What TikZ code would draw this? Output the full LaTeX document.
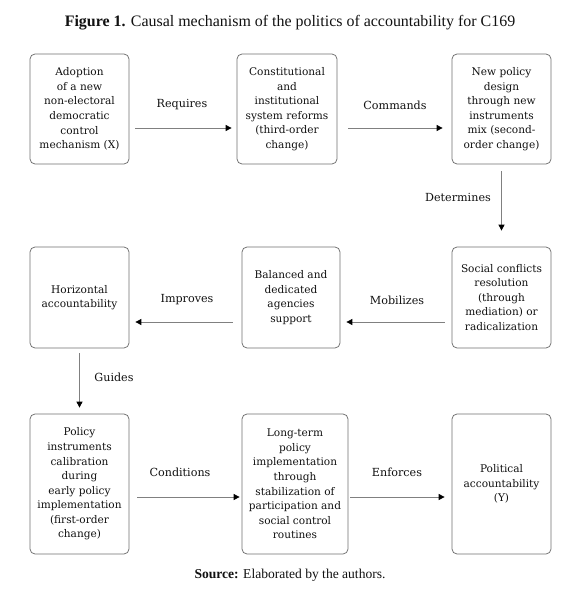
\documentclass[tikz,border=0pt]{standalone}
\usepackage{fontspec}
\setmainfont{Liberation Serif}
\newfontfamily\boxfont{DejaVu Serif}
\usetikzlibrary{arrows.meta}
\definecolor{boxgray}{HTML}{707070}
\definecolor{linegray}{HTML}{808080}
\definecolor{txt}{HTML}{111111}
\begin{document}
\begin{tikzpicture}[x=1bp,y=-1bp,
  box/.style={draw=boxgray, line width=0.75bp, rounded corners=5bp, text=txt,
    font=\boxfont\fontsize{10.6}{14.6}\selectfont, align=center, inner sep=0pt},
  row1/.style={box, minimum width=99bp, minimum height=110bp},
  row2/.style={box, minimum width=99bp, minimum height=101bp},
  row3/.style={box, minimum width=99bp, minimum height=140bp},
  arr/.style={draw=linegray, line width=0.8bp, -{Triangle[length=6bp,width=6bp,color=black]}},
  lbl/.style={text=txt, font=\boxfont\fontsize{11.2}{13}\selectfont, inner sep=0pt}
]
\useasboundingbox (0,0) rectangle (580,595);
\fill[white] (0,0) rectangle (580,595);

\node[font=\fontsize{16}{18}\selectfont, text=txt] (title) at (290,23)
  {\textbf{Figure 1.} Causal mechanism of the politics of accountability for C169};

\node[row1] (A) at (79.5,109) {Adoption\\of a new\\non-electoral\\democratic\\control\\mechanism (X)};
\node[row1, minimum width=100bp] (B) at (287,109) {Constitutional\\and\\institutional\\system reforms\\(third-order\\change)};
\node[row1] (C) at (501.5,109) {New policy\\design\\through new\\instruments\\mix (second-\\order change)};

\node[row2] (D) at (79.5,297.5) {Horizontal\\accountability};
\node[row2, minimum width=98bp] (E) at (291,297.5) {Balanced and\\dedicated\\agencies\\support};
\node[row2] (F) at (501.5,297.5) {Social conflicts\\resolution\\(through\\mediation) or\\radicalization};

\node[row3] (G) at (79.5,484) {Policy\\instruments\\calibration\\during\\early policy\\implementation\\(first-order\\change)};
\node[row3, minimum width=106bp] (H) at (295,484) {Long-term\\policy\\implementation\\through\\stabilization of\\participation and\\social control\\routines};
\node[row3] (I) at (501.5,484) {Political\\accountability\\(Y)};

\draw[arr, shorten <=6bp, shorten >=5bp] ([yshift=-19bp]A.east) -- ([yshift=-19bp]B.west);
\draw[arr, shorten <=11bp, shorten >=9bp] ([yshift=-19bp]B.east) -- ([yshift=-19bp]C.west);
\draw[arr, shorten <=7bp, shorten >=16bp] (C.south) -- (F.north);
\draw[arr, shorten <=7bp, shorten >=6bp] ([yshift=-24.5bp]F.west) -- ([yshift=-24.5bp]E.east);
\draw[arr, shorten <=9bp, shorten >=6bp] ([yshift=-24.5bp]E.west) -- ([yshift=-24.5bp]D.east);
\draw[arr, shorten <=5bp, shorten >=6bp] (D.south) -- (G.north);
\draw[arr, shorten <=8bp, shorten >=2bp] ([yshift=-13bp]G.east) -- ([yshift=-13bp]H.west);
\draw[arr, shorten <=2bp, shorten >=7bp] ([yshift=-13bp]H.east) -- ([yshift=-13bp]I.west);

\node[lbl] (l1) at (182,105) {Requires};
\node[lbl] (l2) at (395,105) {Commands};
\node[lbl] (l3) at (458,197) {Determines};
\node[lbl] (l4) at (397,300) {Mobilizes};
\node[lbl] (l5) at (187,300) {Improves};
\node[lbl] (l6) at (114,377) {Guides};
\node[lbl] (l7) at (180,472) {Conditions};
\node[lbl] (l8) at (397,472) {Enforces};

\node[font=\fontsize{13.6}{16}\selectfont, text=txt] (src) at (290,575)
  {\textbf{Source:} Elaborated by the authors.};
\end{tikzpicture}
\end{document}
